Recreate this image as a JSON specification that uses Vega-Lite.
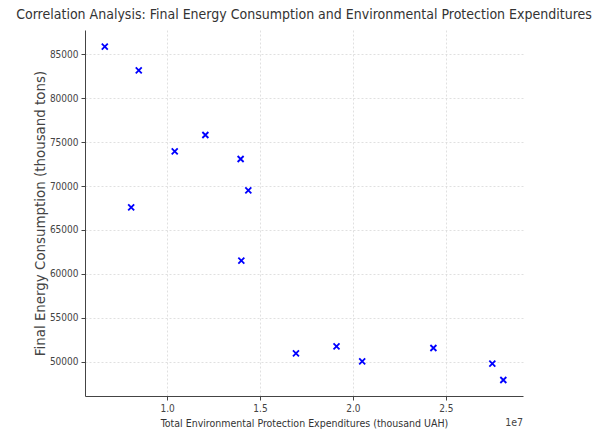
{
  "$schema": "https://vega.github.io/schema/vega-lite/v6.json",
  "width": 438,
  "height": 366,
  "autosize": {"type": "none"},
  "padding": {"left": 85, "top": 30, "right": 77, "bottom": 36},
  "background": "white",
  "title": {
    "text": "Correlation Analysis: Final Energy Consumption and Environmental Protection Expenditures",
    "font": "DejaVu Sans Condensed, DejaVu Sans",
    "fontSize": 14,
    "fontWeight": "normal",
    "color": "#333333",
    "anchor": "middle",
    "frame": "group",
    "offset": 8
  },
  "config": {
    "view": {"stroke": null},
    "axis": {
      "labelFont": "DejaVu Sans Condensed, DejaVu Sans",
      "titleFont": "DejaVu Sans Condensed, DejaVu Sans",
      "labelFontSize": 10,
      "titleFontSize": 10.5,
      "titleFontWeight": "normal",
      "labelColor": "#444444",
      "titleColor": "#333333",
      "domainColor": "#444444",
      "tickColor": "#444444",
      "tickSize": 4,
      "gridColor": "#d8d8d8",
      "gridDash": [2, 2],
      "gridWidth": 0.8
    }
  },
  "datasets": {
    "points": [
      {"expenditure": 6645000, "consumption": 85865},
      {"expenditure": 8473000, "consumption": 83180},
      {"expenditure": 8065000, "consumption": 67580},
      {"expenditure": 10409000, "consumption": 73955},
      {"expenditure": 12059000, "consumption": 75811},
      {"expenditure": 13957000, "consumption": 73079},
      {"expenditure": 14371000, "consumption": 69515},
      {"expenditure": 13995000, "consumption": 61500},
      {"expenditure": 16935000, "consumption": 50956},
      {"expenditure": 19118000, "consumption": 51753},
      {"expenditure": 20500000, "consumption": 50045},
      {"expenditure": 24333000, "consumption": 51560},
      {"expenditure": 27505000, "consumption": 49772},
      {"expenditure": 28097000, "consumption": 47916}
    ],
    "exponent": [
      {"label": "1e7", "expenditure": 29156000, "consumption": 46095}
    ]
  },
  "layer": [
    {
      "data": {"name": "points"},
      "mark": {
        "type": "point",
        "shape": "M-1,-1L1,1M1,-1L-1,1",
        "filled": false,
        "stroke": "#0000ff",
        "strokeWidth": 1.8,
        "size": 36,
        "opacity": 1
      },
      "encoding": {
        "x": {
          "field": "expenditure",
          "type": "quantitative",
          "scale": {"domain": [5580000, 29156000], "nice": false, "zero": false},
          "axis": {
            "title": "Total Environmental Protection Expenditures (thousand UAH)",
            "values": [10000000, 15000000, 20000000, 25000000],
            "labelExpr": "format(datum.value / 10000000, '.1f')",
            "titlePadding": 5,
            "labelPadding": 3
          }
        },
        "y": {
          "field": "consumption",
          "type": "quantitative",
          "scale": {"domain": [46095, 87767], "nice": false, "zero": false},
          "axis": {
            "title": "Final Energy Consumption (thousand tons)",
            "titleFont": "DejaVu Sans",
            "titleFontSize": 13.4,
            "titleColor": "#444444",
            "values": [50000, 55000, 60000, 65000, 70000, 75000, 80000, 85000],
            "format": "d",
            "titlePadding": 2,
            "labelPadding": 3
          }
        }
      }
    },
    {
      "data": {"name": "exponent"},
      "mark": {
        "type": "text",
        "font": "DejaVu Sans Condensed, DejaVu Sans",
        "fontSize": 10.5,
        "color": "#444444",
        "align": "right",
        "baseline": "middle",
        "dy": 27
      },
      "encoding": {
        "x": {"field": "expenditure", "type": "quantitative"},
        "y": {"field": "consumption", "type": "quantitative"},
        "text": {"field": "label", "type": "nominal"}
      }
    }
  ]
}
